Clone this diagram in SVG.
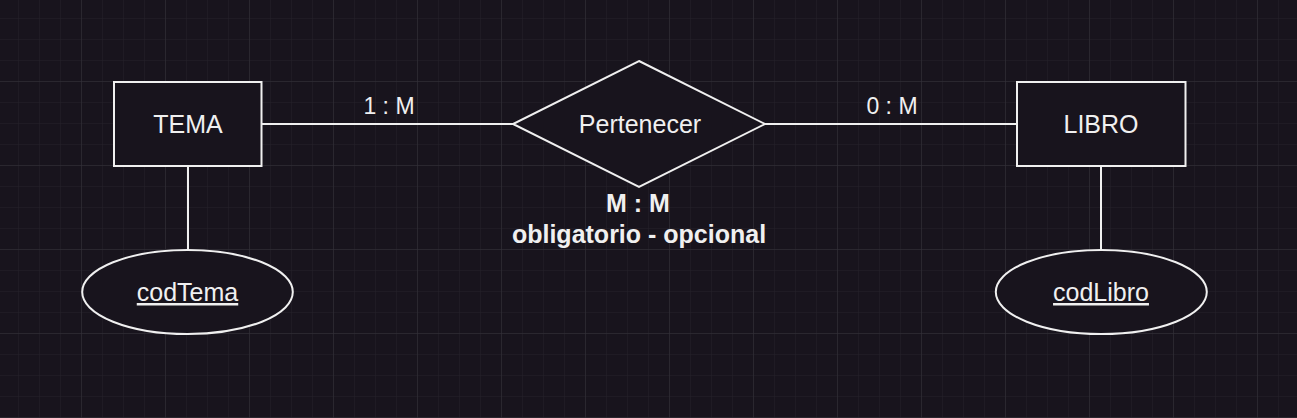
<svg xmlns="http://www.w3.org/2000/svg" width="1297" height="418" viewBox="0 0 1297 418">
<defs>
<pattern id="minor" x="-2" y="-2" width="21" height="21" patternUnits="userSpaceOnUse">
<path d="M21 0V21M0 21H21" fill="none" stroke="#25222a" stroke-width="1"/>
</pattern>
<pattern id="major" x="-2" y="-2" width="84" height="84" patternUnits="userSpaceOnUse">
<path d="M84 0V84M0 84H84" fill="none" stroke="#34313a" stroke-width="1"/>
</pattern>
<style>
.shape{fill:#18141d;stroke:#f0f0f0;stroke-width:2}
.edge{fill:none;stroke:#f0f0f0;stroke-width:2}
.t{font-family:"Liberation Sans",Arial,sans-serif;font-size:25px;fill:#f0f0f0;text-anchor:middle}
.lbl{font-size:23px}
.b{font-weight:bold}
</style>
</defs>
<rect width="1297" height="418" fill="#18141d"/>
<rect width="1297" height="418" fill="url(#minor)"/>
<rect width="1297" height="418" fill="url(#major)"/>
<g id="connectors">
<path class="edge" d="M261 124H513"/>
<path class="edge" d="M765 124H1017"/>
<path class="edge" d="M188 166V250"/>
<path class="edge" d="M1101 166V250"/>
<text class="t lbl" x="389" y="114">1 : M</text>
<text class="t lbl" x="892" y="114">0 : M</text>
</g>
<g id="tema">
<rect class="shape" x="114" y="82" width="147.5" height="84"/>
<text class="t" x="188" y="133">TEMA</text>
</g>
<g id="pertenecer">
<polygon class="shape" points="639,61 765,124 639,187 513,124"/>
<text class="t" x="640" y="133">Pertenecer</text>
<text class="t b" x="638" y="212">M : M</text>
<text class="t b" x="639" y="243">obligatorio - opcional</text>
</g>
<g id="libro">
<rect class="shape" x="1017" y="82" width="168.5" height="84"/>
<text class="t" x="1101" y="133">LIBRO</text>
</g>
<g id="codTema">
<ellipse class="shape" cx="187.5" cy="292" rx="105.3" ry="42"/>
<text class="t" x="187.5" y="301" text-decoration="underline">codTema</text>
</g>
<g id="codLibro">
<ellipse class="shape" cx="1101.3" cy="292" rx="105.5" ry="42"/>
<text class="t" x="1101" y="301" text-decoration="underline">codLibro</text>
</g>
</svg>
